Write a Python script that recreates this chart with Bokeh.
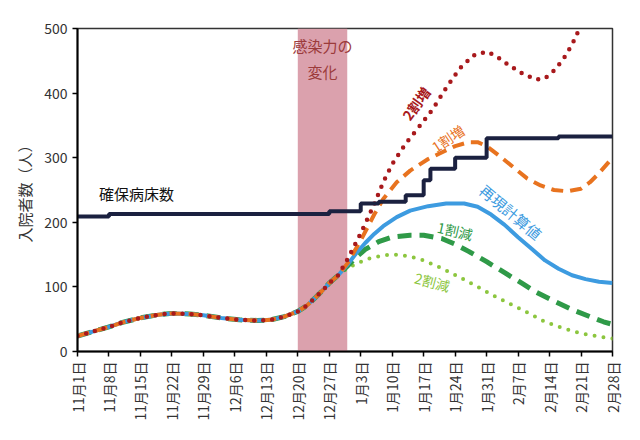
import math
from bokeh.plotting import figure
from bokeh.models import Range1d, FixedTicker, BoxAnnotation, Label
from bokeh.embed import file_html
from bokeh.resources import INLINE

FONT = "Noto Sans CJK JP"

# ---- data (x = days since 11月1日) ----
tick_days = [0, 7, 14, 21, 28, 35, 42, 49, 56, 63, 70, 77, 84, 91, 98, 105, 112, 119]
tick_labels = ["11月1日", "11月8日", "11月15日", "11月22日", "11月29日", "12月6日",
               "12月13日", "12月20日", "12月27日", "1月3日", "1月10日", "1月17日",
               "1月24日", "1月31日", "2月7日", "2月14日", "2月21日", "2月28日"]

# shared early part of all simulated curves
base_days = [0, 3, 7, 10, 14, 18, 21, 25, 28, 32, 36, 40, 43, 46, 49, 51, 53, 55, 56, 58]
base_vals = [24, 30, 38, 45, 52, 57, 59, 58, 56, 52, 49, 48, 49, 54, 62, 71, 84, 98, 106, 118]

# 再現計算値
repro_days = [60, 62, 64, 66, 68, 71, 74, 78, 82, 86, 89, 92, 95, 98, 101, 104, 107, 110, 113, 116, 119]
repro_vals = [134, 152, 168, 182, 194, 208, 218, 225, 229, 229, 224, 212, 196, 177, 159, 141, 128, 118, 112, 108, 106]

# 1割減
m10_days = [60, 62, 64, 67, 70, 74, 77, 81, 84, 87, 91, 95, 99, 102, 106, 110, 114, 117, 119]
m10_vals = [132, 146, 158, 170, 177, 180, 180, 175, 166, 155, 139, 122, 105, 92, 78, 65, 54, 46, 42]

# 2割減
m20_days = [59.5, 62, 65, 68, 71, 74, 77, 81, 85, 89, 93, 97, 101, 104, 108, 112, 116, 119]
m20_vals = [126, 136, 144, 149, 150, 147, 141, 129, 115, 100, 85, 71, 57, 46, 36, 28, 23, 20]

# 1割増
p10_days = [60, 63, 66, 68, 71, 74, 78, 81, 84, 87, 89, 91, 94, 97, 100, 103, 106, 109, 112, 114, 116, 119]
p10_vals = [136, 172, 212, 236, 262, 280, 298, 308, 318, 324, 324, 318, 302, 285, 268, 257, 250, 248, 252, 262, 276, 300]

# 2割増
p20_days = [60, 63, 66, 68, 70, 73, 76, 79, 82, 85, 88, 91, 93, 96, 99, 102, 104, 106, 108, 110, 112, 114]
p20_vals = [142, 183, 228, 262, 290, 322, 348, 375, 408, 438, 458, 464, 458, 443, 430, 421, 423, 435, 452, 475, 505, 540]

# 確保病床数 (step)
beds_days = [0, 7, 56, 63, 67, 73, 77, 78.5, 84, 91, 107, 119]
beds_vals = [209, 213, 217, 229, 232, 242, 265, 283, 300, 330, 333, 333]

# 感染力の変化 period
change_start, change_end = 49, 60

p = figure(width=624, height=424, output_backend="svg", toolbar_location=None,
           x_range=Range1d(0, 119), y_range=Range1d(0, 500),
           min_border_left=77, min_border_right=12, min_border_top=28, min_border_bottom=73)
p.background_fill_color = "white"
p.border_fill_color = "white"
p.outline_line_color = "#333333"
p.outline_line_width = 1.5
p.xgrid.visible = False
p.ygrid.visible = False

p.add_layout(BoxAnnotation(left=change_start, right=change_end, fill_color="#dba1ad",
                           fill_alpha=1.0, line_color=None, level="underlay"))

def series(days, vals):
    return base_days + days, base_vals + vals

x, y = series(m20_days, m20_vals)
p.line(x, y, line_color="#8cc63e", line_width=4, line_dash="0 9", line_cap="round")
x, y = series(m10_days, m10_vals)
p.line(x, y, line_color="#2f9a48", line_width=5, line_dash="14 8")
x, y = series(repro_days, repro_vals)
p.line(x, y, line_color="#3d9be0", line_width=4)
x, y = series(p10_days, p10_vals)
p.line(x, y, line_color="#e8731f", line_width=4, line_dash="12 7")
x, y = series(p20_days, p20_vals)
p.line(x, y, line_color="#a8191c", line_width=4.5, line_dash="0 9", line_cap="round")

p.step(beds_days, beds_vals, mode="after", line_color="#1b2140", line_width=4)

# axes
p.xaxis.ticker = FixedTicker(ticks=tick_days)
p.xaxis.major_label_overrides = {d: l for d, l in zip(tick_days, tick_labels)}
p.xaxis.major_label_orientation = math.pi / 2
p.xaxis.minor_tick_line_color = None
p.yaxis.minor_tick_line_color = None
p.yaxis.ticker = FixedTicker(ticks=[0, 100, 200, 300, 400, 500])
for ax in (p.xaxis[0], p.yaxis[0]):
    ax.axis_line_color = "black"
    ax.axis_line_width = 2
    ax.major_tick_line_color = "black"
    ax.major_tick_line_width = 1.5
    ax.major_tick_out = 5
    ax.major_tick_in = 0
    ax.major_label_text_font = FONT
    ax.major_label_text_color = "#333333"
    ax.major_label_text_font_size = "14px"
p.yaxis.major_label_text_font_size = "14px"
p.yaxis.axis_label = "入院者数（人）"
p.yaxis.axis_label_text_font = FONT
p.yaxis.axis_label_text_font_style = "normal"
p.yaxis.axis_label_text_font_size = "15px"
p.yaxis.axis_label_text_color = "#333333"
p.yaxis.axis_label_standoff = 6

def lab(txt, x, y, color, angle=0.0, size="14px", style="normal"):
    p.add_layout(Label(x=x, y=y, text=txt, text_color=color, angle=angle,
                       text_font=FONT, text_font_size=size, text_font_style=style,
                       text_align="center", text_baseline="middle"))

lab("感染力の", 54.5, 474, "#9c3b3b", size="15px")
lab("変化", 54.5, 433, "#9c3b3b", size="15px")
lab("確保病床数", 13.1, 245, "#111111", size="15px")
lab("2割増", 75.3, 384, "#a8191c", angle=math.radians(54), style="bold")
lab("1割増", 82.4, 330, "#e8731f", angle=math.radians(34))
lab("再現計算値", 96.4, 216, "#3d9be0", angle=math.radians(-40), size="15px")
lab("1割減", 84.0, 187, "#2f9a48", angle=math.radians(-13))
lab("2割減", 78.9, 108, "#8cc63e", angle=math.radians(-15))

open("out.html", "w").write(file_html(p, INLINE))
